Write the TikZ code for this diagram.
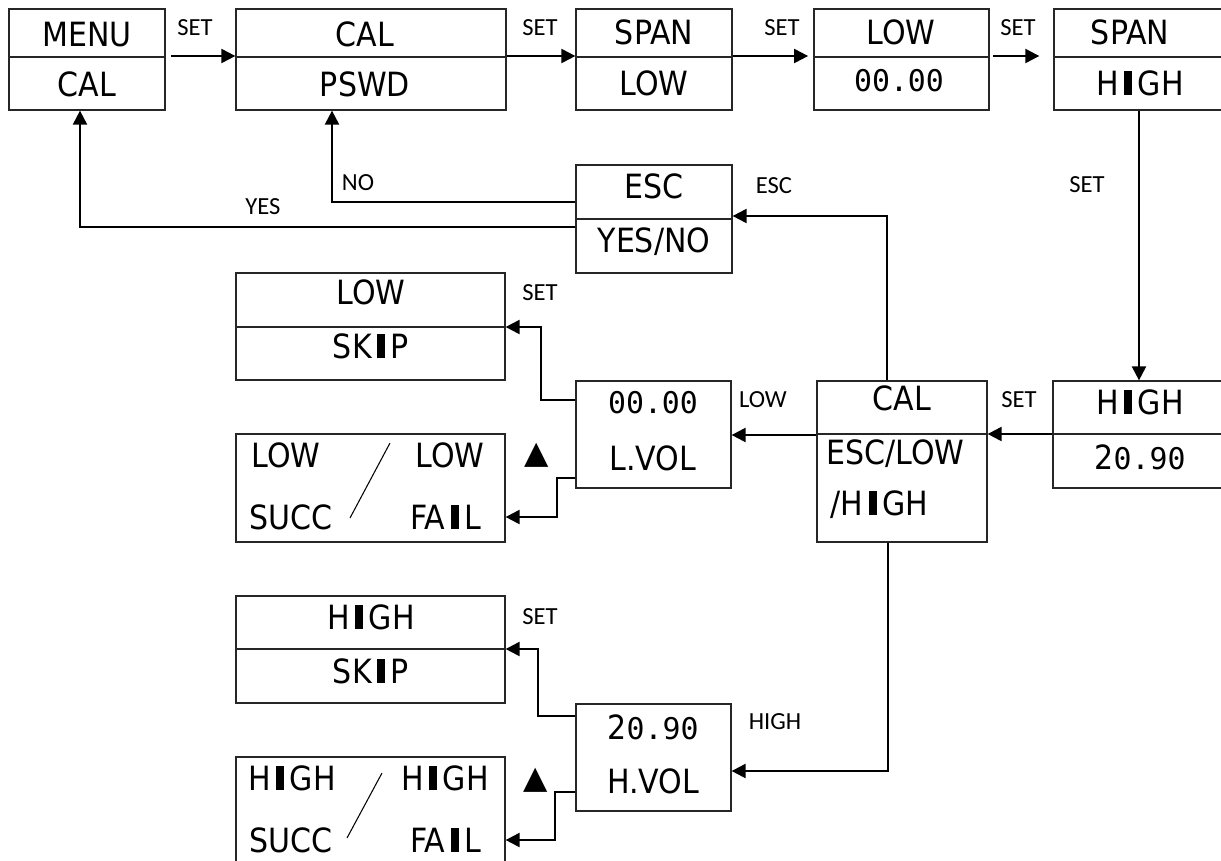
\documentclass[tikz,border=0pt]{standalone}
\usepackage{fontspec}
\setmainfont{DejaVu Sans Condensed}
\newfontfamily\lblfont{Carlito}
\newfontfamily\segfont{DejaVu Sans Mono}
\newfontfamily\symfont{DejaVu Sans}
\usetikzlibrary{arrows.meta,fit}
\newcommand{\blkI}{\,\rule{4.6pt}{13.9pt}\,}

\begin{document}
\begin{tikzpicture}[x=0.02cm,y=-0.02cm,
  box/.style={draw=black!85,line width=0.7pt,inner sep=0pt},
  txt/.style={font=\fontsize{19}{22}\selectfont,inner sep=0pt,text height=13.9pt,text depth=0pt},
  seg/.style={font=\segfont\fontsize{17}{20}\selectfont,inner sep=0pt,text height=12.4pt,text depth=0pt},
  lbl/.style={font=\lblfont\fontsize{14}{16}\selectfont,inner sep=0pt,text height=9pt,text depth=0pt},
  tri/.style={font=\symfont\fontsize{18}{20}\selectfont,inner sep=0pt},
  sep/.style={draw=black!85,line width=0.7pt},
  arr/.style={-{Triangle[length=8pt,width=8pt]},line width=1.2pt}]
  \useasboundingbox (0,0) rectangle (1221,860);
  % top row
  \node[box,fit={(9,9)(165,110)}] (menu) {};
  \node[box,fit={(236,9)(506,110)}] (pswd) {};
  \node[box,fit={(576,9)(732,110)}] (spanlow) {};
  \node[box,fit={(814,9)(989,110)}] (lowval) {};
  \node[box,fit={(1054,9)(1232,110)}] (spanhigh) {};
  \foreach \b in {menu,pswd,spanlow,lowval,spanhigh}
    \draw[sep] (\b.west |- 0,57) -- (\b.east |- 0,57);
  \node[txt] (menu1) at (87,34) {MENU};
  \node[txt] (menu2) at (87,84) {CAL};
  \node[txt] (pswd1) at (365,34) {CAL};
  \node[txt] (pswd2) at (365,84) {PSWD};
  \node[txt] (spanlow1) at (654,32) {SPAN};
  \node[txt] (spanlow2) at (654,83) {LOW};
  \node[txt] (lowval1) at (901,32) {LOW};
  \node[seg] (lowval2) at (899,81) {00.00};
  \node[txt] (spanhigh1) at (1130,32) {SPAN};
  \node[txt] (spanhigh2) at (1140,83) {H\blkI GH};
  \node[lbl] (set1) at (195,28) {SET};
  \node[lbl] (set2) at (540,28) {SET};
  \node[lbl] (set3) at (782,28) {SET};
  \node[lbl] (set4) at (1018,28) {SET};
  \draw[arr,shorten <=3pt] (menu.east |- 0,56) -- (pswd.west |- 0,56);
  \draw[arr] (pswd.east |- 0,56) -- (spanlow.west |- 0,56);
  \draw[arr,shorten >=3pt] (spanlow.east |- 0,56) -- (lowval.west |- 0,56);
  \draw[arr,shorten <=2pt,shorten >=8pt] (lowval.east |- 0,56) -- (spanhigh.west |- 0,56);
  % escape
  \node[box,fit={(576,165)(732,273)}] (esc) {};
  \draw[sep] (esc.west |- 0,219) -- (esc.east |- 0,219);
  \node[txt] (esc1) at (654,186) {ESC};
  \node[txt] (esc2) at (654,240) {YES/NO};
  \node[lbl] (nolbl) at (358,183) {NO};
  \node[lbl] (yeslbl) at (263,207) {YES};
  \node[lbl] (esclbl) at (774,186) {ESC};
  \draw[arr] (esc.west |- 0,202) -| (pswd.south -| 332,0);
  \draw[arr] (esc.west |- 0,227) -| (menu.south -| 80,0);
  % calibration
  \node[box,fit={(1053,381)(1232,488)}] (high20) {};
  \node[box,fit={(817,381)(987,542)}] (cal) {};
  \node[box,fit={(576,381)(731,488)}] (lvol) {};
  \draw[sep] (high20.west |- 0,434) -- (high20.east |- 0,434);
  \draw[sep] (cal.west |- 0,434) -- (cal.east |- 0,434);
  \node[txt] (high201) at (1140,402) {H\blkI GH};
  \node[txt] (high202) at (1140,457) {2{\segfont\fontsize{17}{20}\selectfont 0.90}};
  \node[txt] (cal1) at (902,398) {CAL};
  \node[txt,anchor=west] (cal2) at (826,452) {ESC/LOW};
  \node[txt,anchor=west] (cal3) at (830,503) {/H\blkI GH};
  \node[seg] (lvol1) at (653,403) {00.00};
  \node[txt] (lvol2) at (653,458) {L.VOL};
  \node[lbl] (set5) at (1087,185) {SET};
  \node[lbl] (set6) at (1019,400) {SET};
  \node[lbl] (lowlbl) at (763,400) {LOW};
  \node[lbl] (highlbl) at (775,722) {HIGH};
  \draw[arr] (spanhigh.south -| 1139,0) -- (high20.north -| 1139,0);
  \draw[arr] (high20.west |- 0,434) -- (cal.east |- 0,434);
  \draw[arr] (cal.west |- 0,435) -- (lvol.east |- 0,435);
  \draw[arr] (cal.north -| 887,0) |- (esc.east |- 0,216);
  % low branch
  \node[box,fit={(236,273)(505,380)}] (lskip) {};
  \draw[sep] (lskip.west |- 0,327) -- (lskip.east |- 0,327);
  \node[txt] (lskip1) at (371,292) {LOW};
  \node[txt] (lskip2) at (371,346) {SK\blkI P};
  \node[box,fit={(236,434)(505,542)}] (lres) {};
  \node[txt] (lres1) at (286,455) {LOW};
  \node[txt] (lres2) at (450,455) {LOW};
  \node[txt] (lres3) at (291,517) {SUCC};
  \node[txt] (lres4) at (446,517) {FA\blkI L};
  \draw[line width=0.6pt] (390,443) -- (350,518);
  \node[lbl] (set7) at (540,293) {SET};
  \node[tri] (uplow) at (537,455) {▲};
  \draw[arr] (lvol.west |- 0,400) -| (541,327) -- (lskip.east |- 0,327);
  \draw[arr] (lvol.west |- 0,478) -| (557,517) -- (lres.east |- 0,517);
  % high branch
  \node[box,fit={(576,704)(731,811)}] (hvol) {};
  \node[txt] (hvol1) at (653,727) {2{\segfont\fontsize{17}{20}\selectfont 0.90}};
  \node[txt] (hvol2) at (653,781) {H.VOL};
  \node[box,fit={(236,596)(505,703)}] (hskip) {};
  \draw[sep] (hskip.west |- 0,649) -- (hskip.east |- 0,649);
  \node[txt] (hskip1) at (371,617) {H\blkI GH};
  \node[txt] (hskip2) at (371,671) {SK\blkI P};
  \node[box,fit={(236,757)(505,880)}] (hres) {};
  \node[txt] (hres1) at (292,778) {H\blkI GH};
  \node[txt] (hres2) at (445,778) {H\blkI GH};
  \node[txt] (hres3) at (291,840) {SUCC};
  \node[txt] (hres4) at (446,840) {FA\blkI L};
  \draw[line width=0.6pt] (382,773) -- (347,838);
  \node[lbl] (set8) at (540,617) {SET};
  \node[tri] (uphigh) at (536,780) {▲};
  \draw[arr] (cal.south -| 888,0) |- (hvol.east |- 0,771);
  \draw[arr] (hvol.west |- 0,716) -| (538,649) -- (hskip.east |- 0,649);
  \draw[arr] (hvol.west |- 0,792) -| (555,840) -- (hres.east |- 0,840);
\end{tikzpicture}
\end{document}
